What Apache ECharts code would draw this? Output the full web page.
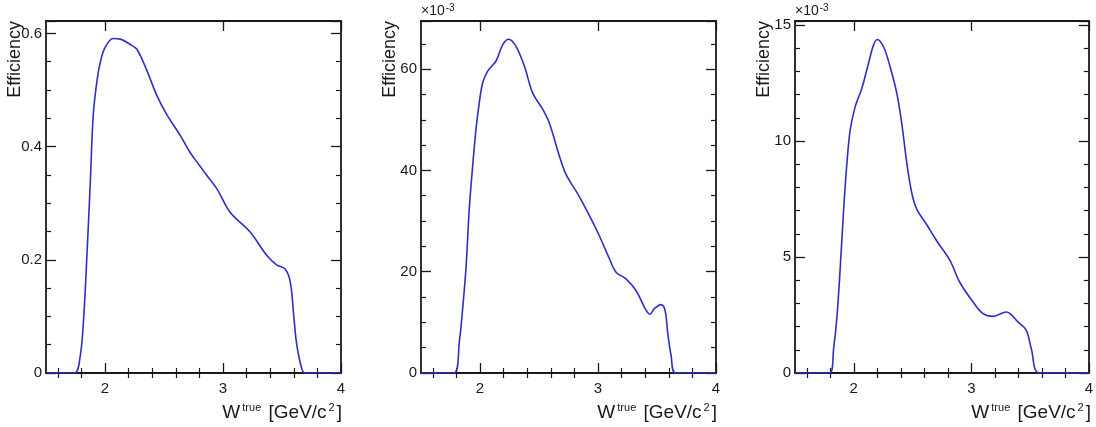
<!DOCTYPE html>
<html>
<head>
<meta charset="utf-8">
<script src="https://cdn.jsdelivr.net/npm/echarts@6/dist/echarts.min.js"></script>
<style>
html,body{margin:0;padding:0;background:#fff;}
#chart{width:1096px;height:427px;}
</style>
</head>
<body>
<div id="chart"></div>
<script>
// ---- data ----
const xTitle = 'W{sup|true} [GeV/c{sup|2}]';
const yTitle = 'Efficiency';
const xMajorTicks = [2, 3, 4];
const xMinorTicks = [1.6, 1.8, 2.2, 2.4, 2.6, 2.8, 3.2, 3.4, 3.6, 3.8];

// Panel 1 (Efficiency, linear)
const w1   = [1.5, 1.74, 1.79, 1.82, 1.845, 1.875, 1.90, 1.93, 1.96, 2.00, 2.07, 2.13, 2.21, 2.27, 2.35, 2.44, 2.52, 2.64, 2.72, 2.80, 2.86, 2.95, 3.06, 3.23, 3.37, 3.455, 3.525, 3.57, 3.60, 3.625, 3.667, 3.695, 4.0];
const eff1 = [0, 0, 0.03, 0.10, 0.20, 0.335, 0.455, 0.513, 0.549, 0.575, 0.591, 0.590, 0.581, 0.572, 0.537, 0.490, 0.458, 0.419, 0.390, 0.367, 0.350, 0.325, 0.284, 0.249, 0.208, 0.191, 0.184, 0.161, 0.10, 0.05, 0.008, 0, 0];

// Panel 2 (Efficiency x10^-3)
const w2   = [1.5, 1.78, 1.825, 1.853, 1.881, 1.909, 1.938, 1.966, 1.994, 2.023, 2.065, 2.136, 2.192, 2.243, 2.305, 2.376, 2.446, 2.531, 2.587, 2.672, 2.729, 2.83, 2.926, 3.011, 3.096, 3.153, 3.237, 3.322, 3.407, 3.44, 3.477, 3.534, 3.568, 3.59, 3.619, 3.66, 4.0];
const eff2 = [0, 0, 6.2, 12.7, 20.6, 32.4, 40.9, 48.1, 53.4, 57.3, 59.6, 61.6, 64.8, 65.9, 64.5, 60.6, 55.3, 52.1, 49.4, 42.9, 39.2, 35.3, 31.1, 27.1, 22.6, 19.9, 18.6, 16.3, 12.4, 11.6, 12.7, 13.5, 12.4, 8.1, 3.5, 0, 0];

// Panel 3 (Efficiency x10^-3)
const w3   = [1.5, 1.795, 1.829, 1.858, 1.886, 1.914, 1.942, 1.97, 2.013, 2.069, 2.125, 2.168, 2.2, 2.253, 2.309, 2.366, 2.408, 2.451, 2.493, 2.536, 2.62, 2.705, 2.818, 2.903, 3.015, 3.1, 3.185, 3.298, 3.397, 3.468, 3.51, 3.58, 4.0];
const eff3 = [0, 0, 1.06, 2.49, 4.63, 7.06, 9.06, 10.49, 11.49, 12.27, 13.34, 14.13, 14.37, 14.06, 13.2, 12.06, 10.77, 9.06, 7.77, 7.06, 6.4, 5.7, 4.85, 3.9, 3.06, 2.56, 2.44, 2.63, 2.2, 1.84, 1.06, 0, 0];

const yMax      = [0.622, 69.5, 15.17];
const yInterval = [0.2, 20, 5];
const yMinorSplit = [4, 4, 5];
const yExpLabel = ['', '\u00d710{sup|-3}', '\u00d710{sup|-3}'];

// ---- layout ----
const FONT = '"Liberation Sans", Arial, Helvetica, sans-serif';
const INK = '#1a1a1a';
const LINE = '#2f2fc8';
const grids = [
  {left: 46, top: 21, width: 295, height: 352},
  {left: 421, top: 21, width: 295, height: 352},
  {left: 795, top: 21, width: 295, height: 352}
];
const panels = [[w1, eff1], [w2, eff2], [w3, eff3]];

const xAxes = [], yAxes = [], series = [], graphics = [];
grids.forEach((g, i) => {
  const lineOn = {show: true, onZero: false, lineStyle: {color: INK, width: 1.8}};
  const xBase = {type: 'value', gridIndex: i, min: 1.5, max: 4, interval: 0.5, splitLine: {show: false}};
  const major = {show: true, inside: true, length: 10, customValues: xMajorTicks, lineStyle: {color: INK, width: 1.3}};
  const minorX = {show: true, inside: true, length: 5, customValues: xMinorTicks, lineStyle: {color: INK, width: 1.2}};
  const mainIdx = xAxes.length;
  // bottom: line + major ticks + labels
  xAxes.push(Object.assign({}, xBase, {
    position: 'bottom', axisLine: lineOn, axisTick: major,
    axisLabel: {show: true, margin: 8, fontSize: 15, color: INK, fontFamily: FONT, customValues: xMajorTicks}
  }));
  // bottom: minor ticks
  xAxes.push(Object.assign({}, xBase, {position: 'bottom', axisLine: {show: false}, axisTick: minorX, axisLabel: {show: false}}));
  // top: line + major ticks
  xAxes.push(Object.assign({}, xBase, {position: 'top', axisLine: lineOn, axisTick: major, axisLabel: {show: false}}));
  // top: minor ticks
  xAxes.push(Object.assign({}, xBase, {position: 'top', axisLine: {show: false}, axisTick: minorX, axisLabel: {show: false}}));

  const tick = {show: true, inside: true, length: 10, lineStyle: {color: INK, width: 1.3}};
  const minor = {show: true, splitNumber: yMinorSplit[i], length: 5, lineStyle: {color: INK, width: 1.2}};
  const ybase = {
    type: 'value', gridIndex: i, min: 0, max: yMax[i], interval: yInterval[i],
    axisLine: lineOn, axisTick: tick, minorTick: minor, splitLine: {show: false}
  };
  const yIdx = yAxes.length;
  yAxes.push(Object.assign({}, ybase, {
    position: 'left',
    axisLabel: {show: true, margin: 4, fontSize: 15, color: INK, fontFamily: FONT, showMaxLabel: false}
  }));
  yAxes.push(Object.assign({}, ybase, {position: 'right', axisLabel: {show: false}}));

  const [xs, ys] = panels[i];
  series.push({
    type: 'line', xAxisIndex: mainIdx, yAxisIndex: yIdx,
    data: xs.map((x, k) => [x, ys[k]]),
    smooth: 0.35, showSymbol: false, symbol: 'none',
    lineStyle: {color: LINE, width: 1.6}, silent: true, animation: false
  });

  // y title (rotated), right-aligned at the top of the frame
  graphics.push({
    type: 'text', x: g.left - 31, y: g.top, rotation: Math.PI / 2,
    style: {text: yTitle, fontSize: 18, fontFamily: FONT, fill: INK, align: 'right', verticalAlign: 'middle'}
  });
  // x title, right-aligned below the axis
  graphics.push({
    type: 'text', x: g.left + g.width + 1, y: 424,
    style: {text: xTitle, fontSize: 19, fontFamily: FONT, fill: INK, align: 'right', verticalAlign: 'bottom',
      rich: {sup: {fontSize: 11, fontFamily: FONT, fill: INK, verticalAlign: 'top', padding: [0, 2, 11, 2]}}}
  });
  if (yExpLabel[i]) {
    graphics.push({
      type: 'text', x: g.left, y: 19,
      style: {text: yExpLabel[i], fontSize: 14, fontFamily: FONT, fill: INK, align: 'left', verticalAlign: 'bottom',
        rich: {sup: {fontSize: 10, fontFamily: FONT, fill: INK, padding: [0, 0, 6, 1]}}}
    });
  }
});

const chart = echarts.init(document.getElementById('chart'), null, {renderer: 'canvas'});
chart.setOption({
  animation: false,
  backgroundColor: '#fff',
  grid: grids,
  xAxis: xAxes,
  yAxis: yAxes,
  series: series,
  graphic: graphics
});
</script>
</body>
</html>
